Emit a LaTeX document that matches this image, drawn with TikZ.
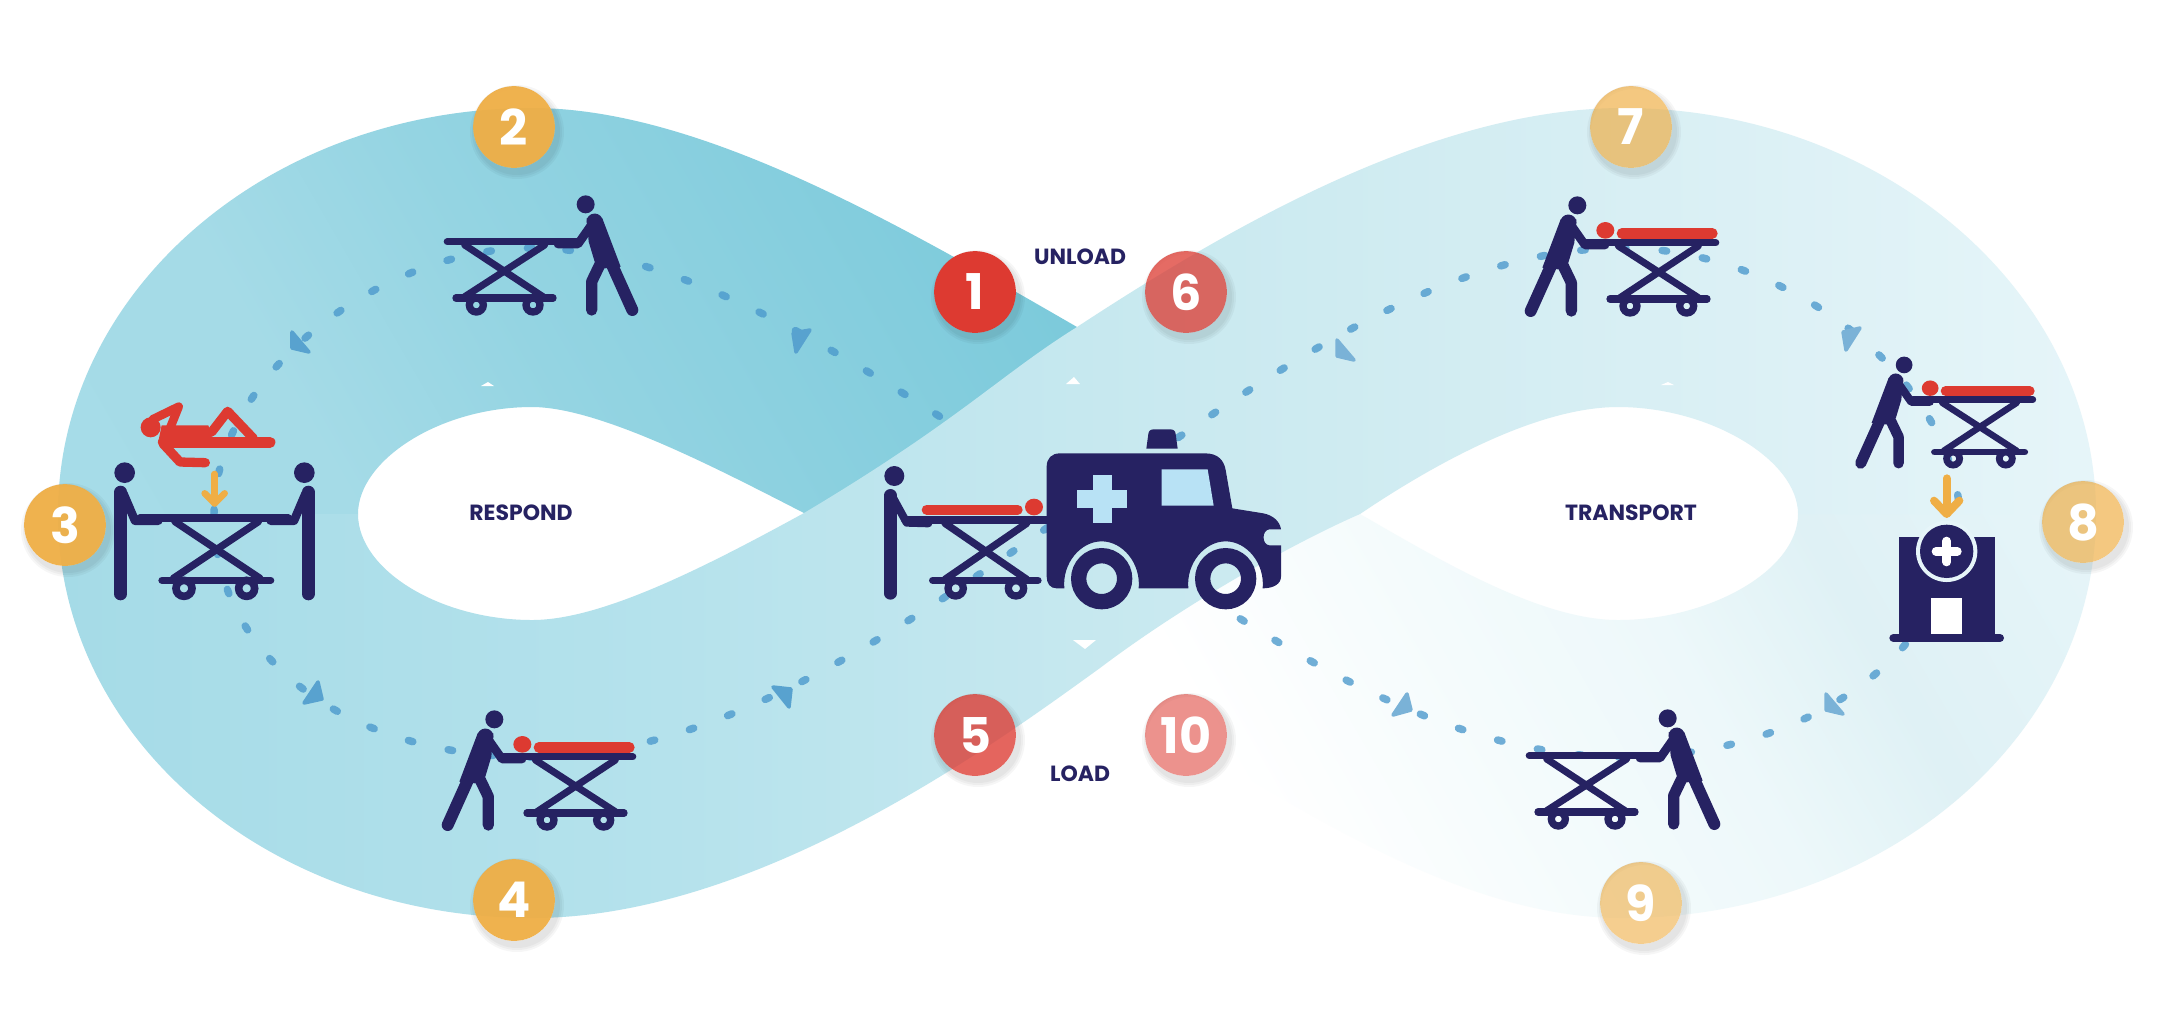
\documentclass[tikz,border=0pt]{standalone}
\usepackage{fontspec}
\setmainfont{Poppins}
\definecolor{navy}{HTML}{262262}
\definecolor{redc}{HTML}{DD3A31}
\definecolor{orangec}{HTML}{EFAE45}
\definecolor{dotc}{HTML}{4A98CC}
\definecolor{triL}{HTML}{58A2CF}
\definecolor{triR}{HTML}{7AB2D7}
\definecolor{winc}{HTML}{B8E2F5}
\definecolor{HA1}{HTML}{A6DCE8}\definecolor{HA2}{HTML}{A5DBE7}\definecolor{HA3}{HTML}{94D4E2}\definecolor{HA4}{HTML}{7CCADB}
\pgfdeclarehorizontalshading{shadeA}{100bp}{color(0bp)=(HA1); color(32bp)=(HA1); color(42.5bp)=(HA2); color(50bp)=(HA3); color(65bp)=(HA4); color(100bp)=(HA4)}
\definecolor{HC1}{HTML}{A5DBE7}\definecolor{HC2}{HTML}{B5E2EC}\definecolor{HC3}{HTML}{C6E8EF}\definecolor{HC4}{HTML}{D6EEF3}\definecolor{HC5}{HTML}{E6F5F9}
\pgfdeclarehorizontalshading{shadeC}{100bp}{color(0bp)=(HC1); color(25bp)=(HC1); color(40bp)=(HC2); color(50bp)=(HC3); color(62bp)=(HC4); color(75bp)=(HC5); color(100bp)=(HC5)}
\definecolor{HD1}{HTML}{FFFFFF}\definecolor{HD2}{HTML}{F4FBFC}\definecolor{HD3}{HTML}{EDF8FA}\definecolor{HD4}{HTML}{DFF1F5}\definecolor{HD5}{HTML}{E6F5F9}
\pgfdeclarehorizontalshading{shadeD}{100bp}{color(0bp)=(HD1); color(36bp)=(HD1); color(44bp)=(HD2); color(50bp)=(HD3); color(55.4bp)=(HD4); color(63.5bp)=(HD5); color(100bp)=(HD5)}
\newcommand\wsc{1}
\tikzset{
  zw/.style={line width=#1*\wsc*0.0945pt},
  iconline/.style={draw=navy,line cap=round,line join=round},
  redline/.style={draw=redc,line cap=round,line join=round},
  arrowline/.style={draw=orangec,line cap=round,line join=round,zw=22},
  route/.style={draw=dotc,opacity=.78,line width=7.5*0.2835pt,line cap=round,dash pattern=on 1.3pt off 10.3pt},
  tri/.style={line width=1pt,line join=round},
  spark/.style={fill=white},
  badge/.style={circle,inner sep=0pt,minimum size=23.25pt,text=white,text opacity=1,font=\fontsize{14}{14}\selectfont\bfseries},
  lab/.style={text=navy,font=\fontsize{6.25}{7}\selectfont\bfseries,inner sep=0pt}
}
% stretcher drawn in coordinates of a 3x crop, crossing at the origin
\newcommand\Stretcher{%
  \draw[iconline,zw=22] (-167,-85) -- (220,-85);
  \draw[iconline,zw=21] (-115,-75) -- (120,80);
  \draw[iconline,zw=21] (125,-75) -- (-115,80);
  \draw[iconline,zw=22] (-141,84) -- (150,84);
  \draw[navy,zw=22] (-80,105) circle[radius=21];
  \draw[navy,zw=22] (90,105) circle[radius=21];
}
\newcommand\PersonPush{%
  \fill[navy] (248,-197) circle[radius=27];
  \fill[navy] (251,-155) -- (298,-155) -- (353,-10) -- (305,-5) -- (275,-25) -- (257,-85) -- cycle;
  \fill[navy] (275,-145) circle[radius=24.5];
  \draw[iconline,zw=36] (325,-20) -- (388,120);
  \draw[iconline,zw=34] (290,-15) -- (266,35) -- (266,120);
  \draw[iconline,zw=26] (265,-135) -- (225,-78) -- (165,-78);
}
\newcommand\Patient{%
  \draw[redline,zw=32] (114,-113) -- (-157,-113);
  \fill[redc] (164,-122) ellipse[x radius=27,y radius=25];
}
\newcommand\PusherIcon[5]{% x, y, xsign, scale, patient
  \begin{scope}[shift={(#1,#2)},xscale=#3*#4/3,yscale=#4/3]
    \renewcommand\wsc{#4}
    \Stretcher\PersonPush #5
  \end{scope}}
\newcommand\BadgeNode[6]{% name,x,y,colour,opacity,text
  \foreach \rr in {47,45,43}{\fill[black,opacity=.035,even odd rule] (#2+3,#3+5) circle[radius=\rr] (#2,#3) circle[radius=41];}
  \node[badge,fill=#4,fill opacity=#5] (#1) at (#2,#3) {#6};}
\begin{document}
\begin{tikzpicture}[x=0.01cm,y=-0.01cm]
\useasboundingbox (0,0) rectangle (2166,1026);
\fill[white] (0,0) rectangle (2166,1026);
% band pieces
\begin{scope}
  \clip (58,514) .. controls (58,290) and (270,108) .. (532,108)
   .. controls (700,108) and (900,225) .. (1077,327)
   -- (960,640) -- (804,513)
   .. controls (720,470) and (600,407) .. (532,407)
   .. controls (440,407) and (358,460) .. (358,514) -- cycle;
  \shade[shading=shadeA,shading angle=30] (-232,-400) rectangle (1368,1200);
\end{scope}
\begin{scope}
  \clip (2096,514) .. controls (2096,740) and (1880,918) .. (1623,918)
   .. controls (1440,918) and (1260,780) .. (1100,690)
   -- (1100,400) -- (1360,514)
   .. controls (1440,560) and (1540,620) .. (1618,620)
   .. controls (1710,620) and (1798,570) .. (1798,514) -- cycle;
  \shade[shading=shadeD,shading angle=30] (798,-286) rectangle (2398,1314);
\end{scope}
% part of the dotted route that runs under the upper band
\coordinate (mid) at (1077,507);
\coordinate (ltop) at (532,248);
\coordinate (lleft) at (214,514);
\coordinate (lbot) at (532,757);
\coordinate (rtop) at (1623,248);
\coordinate (rright) at (1960,514);
\coordinate (rbot) at (1623,757);
\draw[route] (rbot) .. controls (1430,757) and (1250,630) .. (mid)
  .. controls (900,390) and (700,248) .. (ltop);
\shade[shading=shadeC] (58,514) .. controls (58,740) and (270,918) .. (532,918)
   .. controls (760,918) and (1000,740) .. (1100,668)
   .. controls (1190,600) and (1300,540) .. (1360,514)
   .. controls (1440,460) and (1540,407) .. (1618,407)
   .. controls (1710,407) and (1798,460) .. (1798,514)
   -- (2096,514)
   .. controls (2096,290) and (1880,108) .. (1623,108)
   .. controls (1440,108) and (1240,220) .. (1077,327)
   .. controls (1000,375) and (960,420) .. (804,513)
   .. controls (700,570) and (600,620) .. (532,620)
   .. controls (440,620) and (358,570) .. (358,514) -- cycle;
% little white marks
\fill[spark] (481,386) -- (488,382) -- (494,386) -- cycle;
\fill[spark] (1066,384) -- (1074,377) -- (1080,384) -- cycle;
\fill[spark] (1073,640) -- (1096,640) -- (1085,649) -- cycle;
\fill[spark] (1661,385) -- (1674,385) -- (1668,382) -- cycle;
% dotted route, rest
\draw[route] (ltop) .. controls (380,248) and (214,375) .. (lleft)
  .. controls (214,660) and (350,757) .. (lbot)
  .. controls (720,757) and (900,630) .. (mid)
  .. controls (1250,390) and (1430,248) .. (rtop)
  .. controls (1780,248) and (1950,370) .. (rright)
  .. controls (1950,660) and (1800,757) .. (rbot);
% route arrowheads
\filldraw[tri,fill=triL,draw=triL] (292,332) -- (292,348) -- (309,352) -- cycle;
\filldraw[tri,fill=triL,draw=triL] (793,333) -- (810,330) -- (796,352) -- cycle;
\filldraw[tri,fill=triL,draw=triL] (318,682) -- (322,699) -- (304,703) -- cycle;
\filldraw[tri,fill=triL,draw=triL] (773,687) -- (791,689) -- (789,707) -- cycle;
\filldraw[tri,fill=triR,draw=triR] (1337,340) -- (1337,356) -- (1354,360) -- cycle;
\filldraw[tri,fill=triR,draw=triR] (1843,332) -- (1860,328) -- (1846,350) -- cycle;
\filldraw[tri,fill=triR,draw=triR] (1826,694) -- (1826,710) -- (1843,714) -- cycle;
\filldraw[tri,fill=triR,draw=triR] (1407,694) -- (1411,710) -- (1393,715) -- cycle;
% trolley icons
\PusherIcon{503}{270}{1}{1}{}
\PusherIcon{577}{785}{-1}{1}{\Patient}
\PusherIcon{1660}{271}{-1}{1}{\Patient}
\PusherIcon{1981}{426}{-1}{0.93}{\Patient}
\PusherIcon{1585}{784}{1}{1}{}
% icon 3: two carriers and casualty
\begin{scope}[shift={(100,370)},scale=0.33333]
  \fill[navy] (74,308) circle[radius=31];
  \fill[navy] (613,308) circle[radius=31];
  \draw[iconline,zw=38] (62,366) -- (62,672);
  \draw[iconline,zw=38] (625,366) -- (625,672);
  \draw[iconline,zw=26] (70,370) -- (105,452) -- (175,452);
  \draw[iconline,zw=26] (617,370) -- (582,452) -- (512,452);
  \draw[iconline,zw=24] (120,445) -- (565,445);
  \draw[iconline,zw=22] (225,455) -- (480,625);
  \draw[iconline,zw=22] (475,455) -- (220,625);
  \draw[iconline,zw=22] (186,631) -- (512,631);
  \draw[navy,zw=23] (252,655) circle[radius=24];
  \draw[navy,zw=23] (440,655) circle[radius=24];
  \draw[arrowline,zw=20] (344,312) -- (344,400);
  \draw[arrowline,zw=20] (314,370) -- (344,400) -- (374,370);
  \fill[redc] (152,172) circle[radius=30];
  \draw[redline,zw=26] (158,148) -- (236,110) -- (208,180);
  \draw[redline,zw=33] (190,217) -- (510,217);
  \fill[redc] (175,215) -- (185,166) -- (325,166) -- (340,215) -- cycle;
  \draw[redline,zw=28] (335,186) -- (383,124) -- (460,205);
  \draw[redline,zw=28] (190,222) -- (240,276) -- (316,278);
\end{scope}
% ambulance with trolley
\begin{scope}[shift={(850,220)},scale=0.33333]
  \fill[navy] (133,768) circle[radius=30];
  \draw[iconline,zw=38] (121,826) -- (121,1120);
  \draw[iconline,zw=24] (125,826) -- (170,908) -- (235,910);
  \draw[iconline,zw=24] (165,900) -- (590,900);
  \draw[iconline,zw=22] (285,910) -- (530,1078);
  \draw[iconline,zw=22] (530,910) -- (285,1078);
  \draw[iconline,zw=22] (248,1081) -- (564,1081);
  \draw[navy,zw=22] (317,1105) circle[radius=23];
  \draw[navy,zw=22] (498,1105) circle[radius=23];
  \draw[redline,zw=30] (230,869) -- (503,869);
  \fill[redc] (552,861) ellipse[x radius=27,y radius=25];
  \fill[navy] (590,740) .. controls (590,715) and (605,700) .. (630,700) -- (1065,700)
    .. controls (1105,700) and (1122,722) .. (1127,750) -- (1147,865) -- (1240,880)
    .. controls (1270,886) and (1290,905) .. (1293,928) -- (1258,928)
    .. controls (1235,930) and (1235,974) .. (1258,976) -- (1293,976) -- (1293,1070)
    .. controls (1293,1092) and (1270,1105) .. (1238,1105)
    .. controls (1245,1030) and (1190,964) .. (1127,964)
    .. controls (1064,964) and (1008,1030) .. (1015,1105) -- (866,1105)
    .. controls (873,1030) and (818,964) .. (755,964)
    .. controls (692,964) and (636,1030) .. (643,1105) -- (620,1105)
    .. controls (600,1105) and (590,1090) .. (590,1070) -- cycle;
  \draw[navy,zw=46] (755,1076) circle[radius=69];
  \draw[navy,zw=46] (1127,1076) circle[radius=69];
  \fill[navy] (889,686) -- (895,642) .. controls (896,632) and (902,628) .. (912,628) -- (960,628)
    .. controls (970,628) and (976,632) .. (977,642) -- (983,686) -- cycle;
  \fill[winc] (729,765) rectangle (786,910);
  \fill[winc] (682,810) rectangle (832,865);
  \fill[winc] (935,748) -- (1073,748) -- (1091,857) -- (935,857) -- cycle;
\end{scope}
% hospital
\begin{scope}[shift={(1840,340)},scale=0.33333]
  \draw[arrowline,zw=24] (320,415) -- (320,520);
  \draw[arrowline,zw=24] (282,482) -- (320,522) -- (358,482);
  \fill[navy] (176,590) rectangle (464,890);
  \fill[HC5] (320,634) circle[radius=92];
  \fill[navy] (320,634) circle[radius=80];
  \draw[white,zw=26,line cap=round] (288,634) -- (352,634);
  \draw[white,zw=26,line cap=round] (320,603) -- (320,666);
  \fill[white] (274,775) rectangle (366,882);
  \draw[iconline,zw=24] (160,894) -- (480,894);
\end{scope}
% labels
\node[lab] (unload) at (1080,257) {UNLOAD};
\node[lab] (load) at (1080,774) {LOAD};
\node[lab] (respond) at (521,513) {RESPOND};
\node[lab] (transport) at (1631,513) {TRANSPORT};
% numbered badges
\BadgeNode{b1}{975}{292}{redc}{1}{1}
\BadgeNode{b2}{514}{127}{orangec}{.95}{2}
\BadgeNode{b3}{65}{525}{orangec}{.95}{3}
\BadgeNode{b4}{514}{900}{orangec}{.95}{4}
\BadgeNode{b5}{975}{735}{redc}{.78}{5}
\BadgeNode{b6}{1186}{292}{redc}{.75}{6}
\BadgeNode{b7}{1631}{127}{orangec}{.68}{7}
\BadgeNode{b8}{2083}{522}{orangec}{.68}{8}
\BadgeNode{b9}{1641}{903}{orangec}{.6}{9}
\BadgeNode{b10}{1186}{735}{redc}{.55}{10}
\end{tikzpicture}
\end{document}
